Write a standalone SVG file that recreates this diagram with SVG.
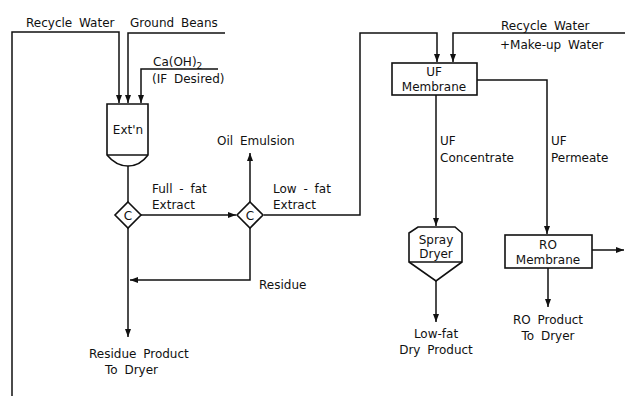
<svg xmlns="http://www.w3.org/2000/svg" width="625" height="396" viewBox="0 0 625 396">
<style>
.n{fill:#fff;stroke:#111;stroke-width:1.6}
.c path{fill:none;stroke:#111;stroke-width:1.5}
text{font-family:"DejaVu Sans","Liberation Sans",sans-serif;font-size:12px;fill:#111;word-spacing:3px}
.m{text-anchor:middle}
</style>
<defs>
<marker id="a" viewBox="0 0 8 6" refX="8" refY="3" markerWidth="8" markerHeight="6" markerUnits="userSpaceOnUse" orient="auto">
<path d="M0,0 L8,3 L0,6 Z" fill="#111"/>
</marker>
</defs>
<rect width="625" height="396" fill="#fff"/>
<g class="c">
<path d="M12,396 V32 H119 V103" marker-end="url(#a)"/>
<path d="M225,33 H128 V103" marker-end="url(#a)"/>
<path d="M218,69 H141 V103" marker-end="url(#a)"/>
<path d="M128,166 V202"/>
<path d="M141,215 H236" marker-end="url(#a)"/>
<path d="M250,202 V153" marker-end="url(#a)"/>
<path d="M250,228 V280 H130" marker-end="url(#a)"/>
<path d="M128,228 V337" marker-end="url(#a)"/>
<path d="M264,215 H360 V33 H437 V62" marker-end="url(#a)"/>
<path d="M625,33 H453 V62" marker-end="url(#a)"/>
<path d="M436,95 V226" marker-end="url(#a)"/>
<path d="M477,80 H547 V234" marker-end="url(#a)"/>
<path d="M436,281 V322" marker-end="url(#a)"/>
<path d="M592,250 H624" marker-end="url(#a)"/>
<path d="M548,268 V307" marker-end="url(#a)"/>
</g>
<g id="ext">
<path class="n" d="M107,104 H148 V155 Q140,166 128,166 Q116,166 107,155 Z"/>
<path d="M107,155 H148" stroke="#111" stroke-width="1.4"/>
<text class="m" x="128" y="134">Ext'n</text>
</g>
<g id="c1">
<path class="n" d="M128,202 L141,215 L128,228 L115,215 Z"/>
<text class="m" x="128" y="219.5">C</text>
</g>
<g id="c2">
<path class="n" d="M250,202 L263,215 L250,228 L237,215 Z"/>
<text class="m" x="250" y="219.5">C</text>
</g>
<g id="uf">
<rect class="n" x="392" y="63" width="85" height="32"/>
<text class="m" x="434" y="76">UF</text>
<text class="m" x="434" y="91">Membrane</text>
</g>
<g id="spray">
<path class="n" d="M418,227 H455 L462,233 V262 L436,281 L409,262 V233 Z"/>
<path d="M409,262 H462" stroke="#111" stroke-width="1.4"/>
<text class="m" x="436" y="244">Spray</text>
<text class="m" x="436" y="258">Dryer</text>
</g>
<g id="ro">
<rect class="n" x="505" y="235" width="87" height="33"/>
<text class="m" x="548" y="249">RO</text>
<text class="m" x="548" y="264">Membrane</text>
</g>
<g id="labels">
<text x="26" y="27">Recycle Water</text>
<text x="130" y="27">Ground Beans</text>
<text x="153" y="66">Ca(OH)<tspan font-size="9" dy="3">2</tspan></text>
<text x="152" y="83">(IF Desired)</text>
<text x="217" y="145">Oil Emulsion</text>
<text x="152" y="193">Full - fat</text>
<text x="152" y="209">Extract</text>
<text x="273" y="193">Low - fat</text>
<text x="273" y="209">Extract</text>
<text x="259" y="289">Residue</text>
<text x="89" y="358">Residue Product</text>
<text x="105" y="374">To Dryer</text>
<text x="501" y="30">Recycle Water</text>
<text x="500" y="49">+Make-up Water</text>
<text x="440" y="145">UF</text>
<text x="440" y="162">Concentrate</text>
<text x="551" y="145">UF</text>
<text x="551" y="162">Permeate</text>
<text class="m" x="436" y="338">Low-fat</text>
<text class="m" x="436" y="354">Dry Product</text>
<text class="m" x="548" y="324">RO Product</text>
<text class="m" x="548" y="340">To Dryer</text>
</g>
</svg>
